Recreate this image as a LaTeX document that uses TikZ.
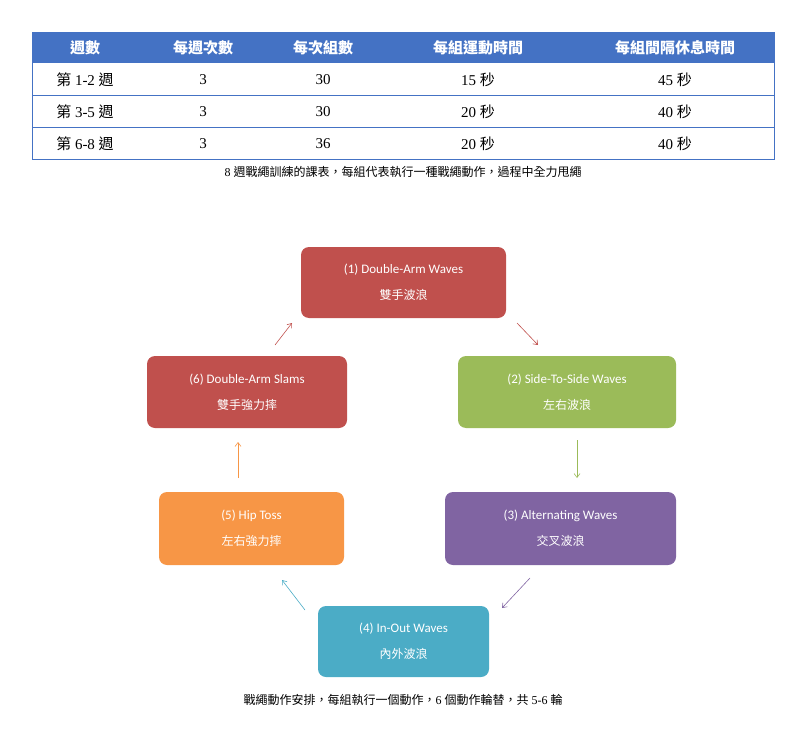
\documentclass[tikz,border=0pt]{standalone}
\usepackage{fontspec}
\setmainfont{Liberation Serif}
\newfontfamily\cjk{Noto Sans CJK TC}
\newfontfamily\boxfont{Carlito}
\usetikzlibrary{arrows.meta}
\definecolor{hdblue}{HTML}{4472C4}
\definecolor{redbox}{HTML}{C0504D}
\definecolor{greenbox}{HTML}{9BBB59}
\definecolor{purplebox}{HTML}{8064A2}
\definecolor{tealbox}{HTML}{4BACC6}
\definecolor{orangebox}{HTML}{F79646}

\begin{document}
\begin{tikzpicture}[x=1pt,y=-1pt]
\tikzstyle{hd} = [text=white, font=\cjk\bfseries\fontsize{15}{18}\selectfont];
\tikzstyle{cell} = [font=\fontsize{15}{18}\selectfont];
\tikzstyle{step box} = [rounded corners=8pt, text=white, align=center, font=\boxfont\fontsize{13}{26}\selectfont];
\tikzstyle{arr} = [-{Straight Barb[length=4pt,width=6pt]}, line width=0.6pt]

\useasboundingbox (0,0) rectangle (800,730);

% table
\fill[hdblue] (32,33) rectangle (774,63);
\draw[hdblue, line width=1pt] (32,33) rectangle (774,160);
\draw[hdblue, line width=1pt] (32,96) -- (774,96) (32,128) -- (774,128);
\node[hd] (h1) at (85,48) {週數};
\node[hd] (h2) at (203,48) {每週次數};
\node[hd] (h3) at (323,48) {每次組數};
\node[hd] (h4) at (478,48) {每組運動時間};
\node[hd] (h5) at (675,48) {每組間隔休息時間};
\foreach \y/\w/\s/\t/\r [count=\i] in {80/1-2/30/15/45, 112/3-5/30/20/40, 144/6-8/36/20/40} {
  \node[cell] (w\i) at (85,\y) {{\cjk 第} \w\ {\cjk 週}};
  \node[cell] (n\i) at (203,\y) {3};
  \node[cell] (s\i) at (323,\y) {\s};
  \node[cell] (t\i) at (478,\y) {\t\ {\cjk 秒}};
  \node[cell] (r\i) at (675,\y) {\r\ {\cjk 秒}};
}
\node[font=\fontsize{12}{14}\selectfont] (cap1) at (403,172) {8 {\cjk 週戰繩訓練的課表，每組代表執行一種戰繩動作，過程中全力甩繩}};

% cycle
\fill[redbox, rounded corners=8pt] (301,247) rectangle (506,318);
\node[step box] (b1) at (403.5,282.5) {(1) Double-Arm Waves\\{\cjk\fontsize{12}{14}\selectfont 雙手波浪}};
\fill[greenbox, rounded corners=8pt] (458,356) rectangle (676,428);
\node[step box] (b2) at (567,392) {(2) Side-To-Side Waves\\{\cjk\fontsize{12}{14}\selectfont 左右波浪}};
\fill[purplebox, rounded corners=8pt] (445,492) rectangle (676,565);
\node[step box] (b3) at (560.5,528.5) {(3) Alternating Waves\\{\cjk\fontsize{12}{14}\selectfont 交叉波浪}};
\fill[tealbox, rounded corners=8pt] (318,606) rectangle (489,677);
\node[step box] (b4) at (403.5,641.5) {(4) In-Out Waves\\{\cjk\fontsize{12}{14}\selectfont 內外波浪}};
\fill[orangebox, rounded corners=8pt] (159,492) rectangle (344,565);
\node[step box] (b5) at (251.5,528.5) {(5) Hip Toss\\{\cjk\fontsize{12}{14}\selectfont 左右強力摔}};
\fill[redbox, rounded corners=8pt] (147,356) rectangle (347,428);
\node[step box] (b6) at (247,392) {(6) Double-Arm Slams\\{\cjk\fontsize{12}{14}\selectfont 雙手強力摔}};

\coordinate (a1s) at (517,323); \coordinate (a1e) at (538,345);
\coordinate (a2s) at (577,440); \coordinate (a2e) at (577,478);
\coordinate (a3s) at (530,578); \coordinate (a3e) at (502,608);
\coordinate (a4s) at (305,610); \coordinate (a4e) at (282,580);
\coordinate (a5s) at (238,478); \coordinate (a5e) at (238,442);
\coordinate (a6s) at (275,345); \coordinate (a6e) at (292,323);
\draw[arr, redbox] (a1s) -- (a1e);
\draw[arr, greenbox] (a2s) -- (a2e);
\draw[arr, purplebox] (a3s) -- (a3e);
\draw[arr, tealbox] (a4s) -- (a4e);
\draw[arr, orangebox] (a5s) -- (a5e);
\draw[arr, redbox] (a6s) -- (a6e);

\node[font=\fontsize{12}{14}\selectfont] (cap2) at (403,700) {{\cjk 戰繩動作安排，每組執行一個動作，}6 {\cjk 個動作輪替，共} 5-6 {\cjk 輪}};
\end{tikzpicture}
\end{document}
